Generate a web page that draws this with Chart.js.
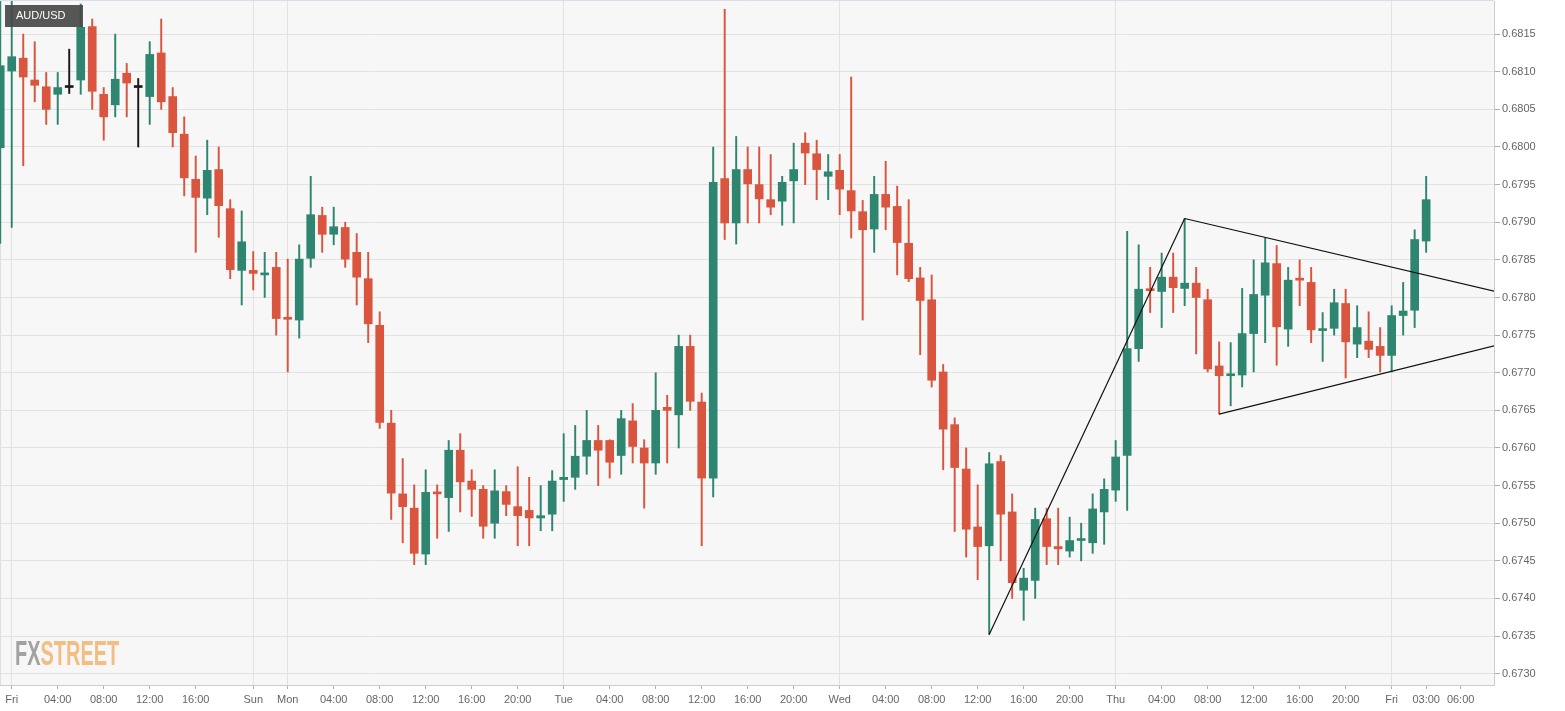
<!DOCTYPE html>
<html>
<head>
<meta charset="utf-8">
<script src="https://cdn.jsdelivr.net/npm/chart.js@4.4.1/dist/chart.umd.min.js"></script>
<style>
  html, body { margin: 0; padding: 0; background: #fff; }
</style>
</head>
<body>
<canvas id="chart" width="1565" height="711"></canvas>
<script>
// AUD/USD hourly candles. Index 0 = Fri 00:00, the first candle (index -1) is cut by the left edge
const firstHour = -1;

const opens = [
  0.67999, 0.68101, 0.68118, 0.68089, 0.68080, 0.68070, 0.68079, 0.68089, 0.68160, 0.68070,
  0.68056, 0.68098, 0.68079, 0.68067, 0.68125, 0.68067, 0.68017, 0.67957, 0.67932, 0.67970,
  0.67918, 0.67836, 0.67836, 0.67830, 0.67840, 0.67773, 0.67770, 0.67852, 0.67909, 0.67884,
  0.67893, 0.67860, 0.67825, 0.67763, 0.67633, 0.67539, 0.67520, 0.67459, 0.67541, 0.67534,
  0.67597, 0.67556, 0.67545, 0.67500, 0.67542, 0.67522, 0.67517, 0.67507, 0.67512, 0.67558,
  0.67561, 0.67589, 0.67610, 0.67610, 0.67590, 0.67636, 0.67600, 0.67580, 0.67654, 0.67644,
  0.67735, 0.67661, 0.67560, 0.67958, 0.67899, 0.67970, 0.67950, 0.67930, 0.67928, 0.67955,
  0.68005, 0.67991, 0.67961, 0.67969, 0.67942, 0.67914, 0.67891, 0.67937, 0.67921, 0.67872,
  0.67826, 0.67797, 0.67701, 0.67631, 0.67572, 0.67495, 0.67470, 0.67582, 0.67515, 0.67411,
  0.67424, 0.67506, 0.67469, 0.67463, 0.67477, 0.67474, 0.67515, 0.67544, 0.67590, 0.67732,
  0.67811, 0.67808, 0.67827, 0.67812, 0.67819, 0.67797, 0.67709, 0.67696, 0.67697, 0.67752,
  0.67803, 0.67845, 0.67758, 0.67825, 0.67820, 0.67756, 0.67759, 0.67792, 0.67738, 0.67742,
  0.67735, 0.67723, 0.67776, 0.67783, 0.67875
];
const highs = [
  0.68210, 0.68210, 0.68150, 0.68140, 0.68099, 0.68099, 0.68130, 0.68190, 0.68170, 0.68079,
  0.68150, 0.68111, 0.68091, 0.68140, 0.68170, 0.68079, 0.68040, 0.67988, 0.68009, 0.68000,
  0.67930, 0.67915, 0.67861, 0.67860, 0.67860, 0.67851, 0.67870, 0.67961, 0.67920, 0.67920,
  0.67900, 0.67885, 0.67860, 0.67781, 0.67650, 0.67586, 0.67551, 0.67571, 0.67551, 0.67610,
  0.67619, 0.67571, 0.67550, 0.67571, 0.67550, 0.67575, 0.67561, 0.67550, 0.67570, 0.67619,
  0.67630, 0.67650, 0.67630, 0.67611, 0.67650, 0.67659, 0.67611, 0.67700, 0.67670, 0.67750,
  0.67750, 0.67673, 0.68000, 0.68183, 0.68014, 0.68000, 0.68000, 0.67990, 0.67961, 0.68005,
  0.68019, 0.68009, 0.67990, 0.67990, 0.68093, 0.67929, 0.67961, 0.67981, 0.67948, 0.67930,
  0.67840, 0.67830, 0.67711, 0.67640, 0.67600, 0.67551, 0.67594, 0.67590, 0.67539, 0.67440,
  0.67520, 0.67520, 0.67520, 0.67508, 0.67500, 0.67539, 0.67559, 0.67610, 0.67888, 0.67870,
  0.67840, 0.67859, 0.67859, 0.67905, 0.67840, 0.67811, 0.67741, 0.67740, 0.67812, 0.67850,
  0.67879, 0.67869, 0.67840, 0.67850, 0.67840, 0.67780, 0.67811, 0.67811, 0.67789, 0.67781,
  0.67760, 0.67789, 0.67820, 0.67890, 0.67961
];
const lows = [
  0.67872, 0.67893, 0.67975, 0.68060, 0.68030, 0.68030, 0.68071, 0.68070, 0.68050, 0.68009,
  0.68040, 0.68040, 0.68000, 0.68030, 0.68050, 0.68000, 0.67935, 0.67860, 0.67910, 0.67880,
  0.67825, 0.67790, 0.67810, 0.67800, 0.67750, 0.67701, 0.67746, 0.67840, 0.67860, 0.67870,
  0.67840, 0.67790, 0.67740, 0.67626, 0.67505, 0.67474, 0.67445, 0.67445, 0.67480, 0.67489,
  0.67515, 0.67509, 0.67480, 0.67480, 0.67510, 0.67470, 0.67470, 0.67490, 0.67490, 0.67529,
  0.67545, 0.67565, 0.67550, 0.67560, 0.67565, 0.67580, 0.67520, 0.67565, 0.67580, 0.67600,
  0.67650, 0.67470, 0.67535, 0.67877, 0.67871, 0.67899, 0.67899, 0.67910, 0.67896, 0.67899,
  0.67950, 0.67930, 0.67930, 0.67910, 0.67879, 0.67770, 0.67860, 0.67890, 0.67830, 0.67821,
  0.67724, 0.67681, 0.67571, 0.67489, 0.67455, 0.67425, 0.67352, 0.67450, 0.67400, 0.67371,
  0.67400, 0.67445, 0.67445, 0.67455, 0.67450, 0.67460, 0.67472, 0.67529, 0.67517, 0.67715,
  0.67780, 0.67760, 0.67780, 0.67789, 0.67725, 0.67701, 0.67645, 0.67656, 0.67681, 0.67701,
  0.67740, 0.67710, 0.67735, 0.67789, 0.67740, 0.67715, 0.67750, 0.67693, 0.67720, 0.67720,
  0.67701, 0.67701, 0.67750, 0.67760, 0.67860
];
const closes = [
  0.68108, 0.68120, 0.68093, 0.68082, 0.68050, 0.68079, 0.68079, 0.68159, 0.68074, 0.68040,
  0.68090, 0.68085, 0.68079, 0.68123, 0.68060, 0.68019, 0.67959, 0.67933, 0.67969, 0.67922,
  0.67837, 0.67874, 0.67832, 0.67832, 0.67772, 0.67771, 0.67851, 0.67910, 0.67884, 0.67894,
  0.67851, 0.67827, 0.67765, 0.67634, 0.67540, 0.67522, 0.67460, 0.67541, 0.67539, 0.67597,
  0.67555, 0.67545, 0.67496, 0.67543, 0.67525, 0.67510, 0.67507, 0.67510, 0.67556, 0.67561,
  0.67589, 0.67610, 0.67597, 0.67581, 0.67639, 0.67602, 0.67580, 0.67650, 0.67650, 0.67735,
  0.67662, 0.67560, 0.67953, 0.67899, 0.67970, 0.67951, 0.67931, 0.67920, 0.67953, 0.67970,
  0.67992, 0.67970, 0.67967, 0.67944, 0.67915, 0.67890, 0.67937, 0.67920, 0.67873, 0.67825,
  0.67796, 0.67690, 0.67625, 0.67574, 0.67492, 0.67469, 0.67579, 0.67512, 0.67421, 0.67427,
  0.67505, 0.67469, 0.67466, 0.67477, 0.67478, 0.67519, 0.67545, 0.67588, 0.67732, 0.67811,
  0.67809, 0.67827, 0.67813, 0.67819, 0.67800, 0.67705, 0.67696, 0.67697, 0.67752, 0.67804,
  0.67846, 0.67761, 0.67823, 0.67823, 0.67757, 0.67758, 0.67793, 0.67741, 0.67760, 0.67731,
  0.67723, 0.67776, 0.67782, 0.67877, 0.67930
];

const tickHours = [0, 4, 8, 12, 16, 21, 24, 28, 32, 36, 40, 44, 48, 52, 56, 60, 64, 68, 72,
  76, 80, 84, 88, 92, 96, 100, 104, 108, 112, 116, 120, 123, 126];
const tickLabels = ['Fri', '04:00', '08:00', '12:00', '16:00', 'Sun', 'Mon', '04:00', '08:00',
  '12:00', '16:00', '20:00', 'Tue', '04:00', '08:00', '12:00', '16:00', '20:00', 'Wed',
  '04:00', '08:00', '12:00', '16:00', '20:00', 'Thu', '04:00', '08:00', '12:00', '16:00',
  '20:00', 'Fri', '03:00', '06:00'];
const dayLabels = ['Fri', 'Sun', 'Mon', 'Tue', 'Wed', 'Thu'];

const priceTicks = [0.6730, 0.6735, 0.6740, 0.6745, 0.6750, 0.6755, 0.6760, 0.6765, 0.6770,
  0.6775, 0.6780, 0.6785, 0.6790, 0.6795, 0.6800, 0.6805, 0.6810, 0.6815];

// hand drawn trend lines: [hour index, price]
const riseLine = [[85, 0.67352], [102, 0.67905]];
const upperLine = [[102, 0.67905], [129, 0.67808]];
const lowerLine = [[105, 0.67645], [129, 0.67736]];

const UP = '#2e8670';
const DOWN = '#d9553e';
const FLAT = '#1a1a1a';
const FONT = 'Arial, "Liberation Sans", sans-serif';

const hours = opens.map((_, i) => i + firstHour);
const colors = opens.map((o, i) => closes[i] > o ? UP : (closes[i] < o ? DOWN : FLAT));

const toPts = arr => arr.map(p => ({ x: p[0], y: p[1] }));
const trend = pts => ({
  type: 'line',
  data: toPts(pts),
  borderColor: '#111',
  borderWidth: 1.2,
  pointRadius: 0,
  fill: false,
  tension: 0,
  order: 0
});

const frame = {
  id: 'frame',
  beforeDraw(chart) {
    const { ctx, chartArea: a } = chart;
    ctx.save();
    ctx.fillStyle = '#f7f7f7';
    ctx.fillRect(a.left, a.top, a.right - a.left, a.bottom - a.top);
    ctx.strokeStyle = '#dcdcea';
    ctx.lineWidth = 1;
    ctx.beginPath();
    ctx.moveTo(a.left + 0.5, a.bottom);
    ctx.lineTo(a.left + 0.5, a.top - 0.5);
    ctx.lineTo(a.right, a.top - 0.5);
    ctx.stroke();
    ctx.restore();
  },
  afterDraw(chart) {
    const ctx = chart.ctx;
    ctx.save();
    // pair label
    ctx.fillStyle = 'rgba(72,72,72,0.92)';
    ctx.fillRect(5, 5, 78, 22);
    ctx.fillStyle = '#fff';
    ctx.font = '11px ' + FONT;
    ctx.textBaseline = 'middle';
    ctx.fillText('AUD/USD', 16, 16);
    // FXSTREET logo
    ctx.font = 'bold 35px ' + FONT;
    ctx.textBaseline = 'alphabetic';
    ctx.translate(15, 665);
    ctx.scale(0.57, 1);
    ctx.fillStyle = '#a2a2a2';
    ctx.fillText('FX', 0, 0);
    const w = ctx.measureText('FX').width;
    ctx.fillStyle = '#f2be84';
    ctx.fillText('STREET', w, 0);
    ctx.restore();
  }
};

new Chart(document.getElementById('chart'), {
  type: 'bar',
  data: {
    datasets: [
      {
        label: 'wick',
        data: hours.map((h, i) => ({ x: h, y: [lows[i], highs[i]] })),
        backgroundColor: colors,
        barThickness: 1.3,
        grouped: false,
        order: 2
      },
      {
        label: 'body',
        data: hours.map((h, i) => ({ x: h, y: [opens[i], closes[i]] })),
        backgroundColor: colors,
        barThickness: 8,
        minBarLength: 2,
        grouped: false,
        order: 1
      },
      trend(riseLine),
      trend(upperLine),
      trend(lowerLine)
    ]
  },
  options: {
    responsive: false,
    animation: false,
    devicePixelRatio: 1,
    layout: { padding: { top: 1, left: 0, right: 0, bottom: 0 } },
    plugins: { legend: { display: false }, tooltip: { enabled: false } },
    scales: {
      x: {
        type: 'linear',
        min: -1.02,
        max: 128.9,
        offset: false,
        grid: {
          offset: false,
          color: c => (c.tick && dayLabels.includes(tickLabels[tickHours.indexOf(c.tick.value)])) ? '#e2e2e2' : 'rgba(0,0,0,0)',
          tickColor: '#b0b0b0',
          tickLength: 4
        },
        border: { color: '#cdcdcd' },
        ticks: {
          autoSkip: false,
          maxRotation: 0,
          color: '#666',
          padding: 4,
          font: { size: 11, family: FONT },
          callback: v => tickLabels[tickHours.indexOf(v)]
        },
        afterBuildTicks: s => { s.ticks = tickHours.map(v => ({ value: v })); },
        afterFit: s => { s.height = 26; s.paddingLeft = 0; s.paddingRight = 0; }
      },
      y: {
        position: 'right',
        min: 0.67285,
        max: 0.68194,
        beginAtZero: false,
        grid: { color: '#e2e2e2', tickColor: '#b0b0b0', tickLength: 6 },
        border: { color: '#cdcdcd' },
        ticks: {
          color: '#666',
          padding: 2,
          font: { size: 11, family: FONT },
          callback: v => v.toFixed(4)
        },
        afterBuildTicks: s => { s.ticks = priceTicks.map(v => ({ value: v })); },
        afterFit: s => { s.width = 71; s.paddingTop = 0; s.paddingBottom = 0; }
      }
    }
  },
  plugins: [frame]
});
</script>
</body>
</html>
